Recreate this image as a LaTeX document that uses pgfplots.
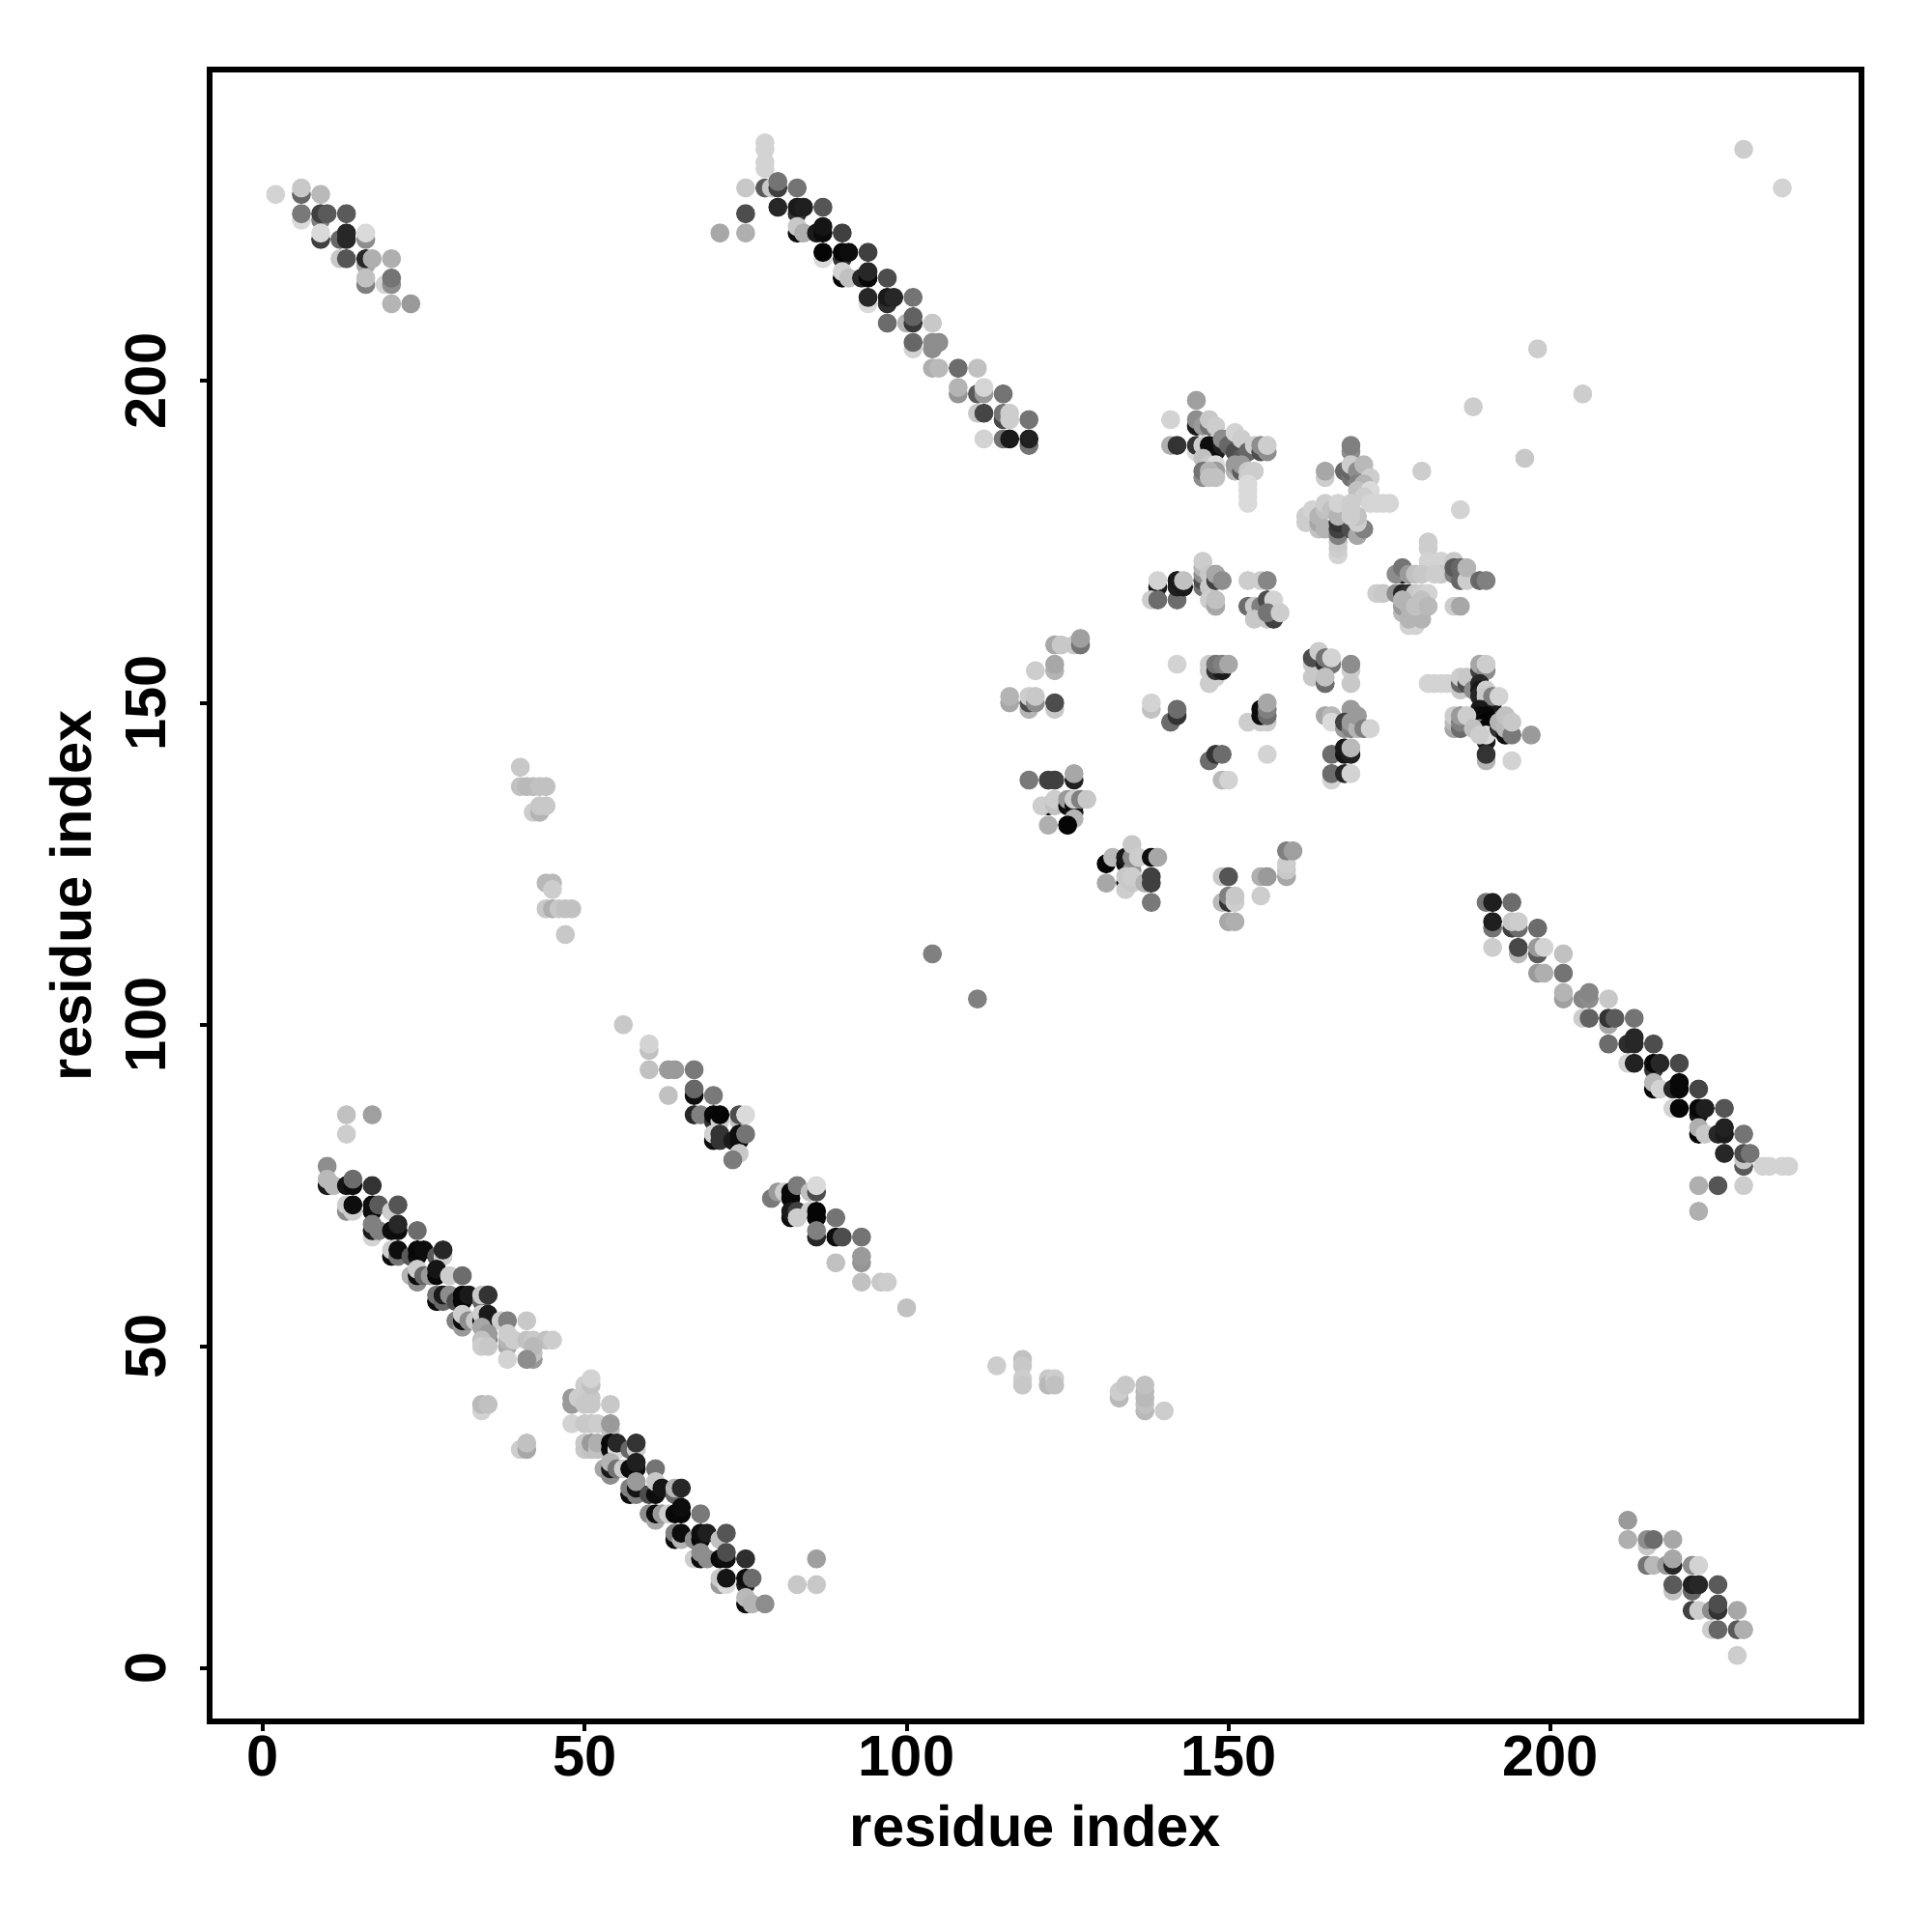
\documentclass[border=0pt]{standalone}
\usepackage{pgfplots}
\usepackage{fontspec}
\setmainfont{Liberation Sans}
\pgfplotsset{compat=1.18}
\begin{document}
\begin{tikzpicture}[x=1pt,y=1pt]
\useasboundingbox (0,0) rectangle (500,500);
\begin{axis}[
  at={(54.25pt,54.5pt)}, anchor=south west,
  scale only axis, width=427.5pt, height=427.5pt,
  xmin=-8.25, xmax=248.3, ymin=-8.25, ymax=248.4,
  axis line style={line width=1.5pt},
  tick style={black, line width=1pt},
  tick align=outside, major tick length=2.6pt,
  xtick={0,50,100,150,200}, ytick={0,50,100,150,200},
  xtick pos=bottom, ytick pos=left,
  /pgf/number format/assume math mode=true,
  tick label style={font=\fontsize{14.9}{16}\selectfont\bfseries},
  xticklabel style={yshift=2.5pt},
  yticklabel style={rotate=90, anchor=south, yshift=5pt},
  label style={font=\fontsize{14.9}{16}\selectfont\bfseries},
  xlabel={residue index}, ylabel={residue index},
  xlabel style={at={(axis description cs:0.5,0)}, anchor=center, yshift=-27pt},
  ylabel style={at={(axis description cs:0,0.5)}, anchor=center, yshift=36pt},
  colormap={mygray}{gray(0cm)=(0); gray(1cm)=(1)},
  point meta min=0, point meta max=1,
  clip=true,
]
\addplot[scatter, only marks, mark=*, mark size=2.25pt, line width=0.4pt,
  scatter/use mapped color={fill=mapped color, draw=mapped color},
  point meta=explicit]
table[x=x, y=y, meta=g, row sep=\\] {
x y g\\
2 229 .82\\ 6 229 .4\\ 6 230 .78\\ 9 229 .72\\ 6 225 .85\\ 6 226 .47\\ 9 225 .5\\ 9 226 .25\\ 10 226 .35\\ 13 226 .35\\
9 222 .25\\ 9 223 .85\\ 12 222 .4\\ 13 223 .15\\ 13 222 .15\\ 16 222 .55\\ 16 223 .85\\ 12 219 .78\\ 13 219 .33\\ 16 218 .65\\ 16 219 .15\\ 17 219 .68\\ 20 219 .68\\
16 215 .5\\ 16 216 .75\\ 19 215 .82\\ 20 215 .55\\ 20 216 .45\\ 20 212 .7\\ 23 212 .6\\
78 237 .82\\ 78 236 .82\\ 78 234 .82\\ 78 233 .82\\ 75 230 .78\\ 78 230 .35\\ 79 230 .78\\ 80 230 .25\\ 80 231 .45\\ 83 230 .45\\
75 226 .3\\ 71 223 .65\\ 75 223 .68\\ 80 227 .15\\ 83 226 .2\\ 83 227 .1\\ 84 227 .12\\ 87 227 .33\\
83 223 .05\\ 83 224 .78\\ 84 223 .68\\ 86 223 .1\\ 87 223 .04\\ 87 224 .08\\ 90 223 .25\\
87 219 .85\\ 87 220 .02\\ 90 219 .2\\ 90 220 .02\\ 91 220 .05\\ 94 220 .25\\
90 216 .02\\ 90 217 .82\\ 91 216 .75\\ 93 216 .15\\ 94 216 .03\\ 94 217 .15\\ 97 216 .3\\
94 212 .85\\ 94 213 .15\\ 97 212 .18\\ 97 213 .1\\ 98 213 .15\\ 101 213 .45\\
97 209 .42\\ 100 209 .7\\ 101 209 .22\\ 101 210 .38\\ 104 209 .78\\ 101 205 .82\\ 101 206 .4\\ 104 205 .55\\ 104 206 .55\\ 105 206 .55\\
104 202 .68\\ 105 202 .72\\ 108 202 .42\\ 111 202 .75\\ 108 198 .58\\ 108 199 .7\\ 111 198 .35\\ 112 198 .6\\ 112 199 .83\\ 115 198 .45\\
111 195 .78\\ 112 195 .27\\ 115 194 .28\\ 115 195 .45\\ 116 194 .8\\ 116 195 .8\\ 119 194 .45\\
112 191 .82\\ 115 191 .45\\ 116 191 .1\\ 119 190 .45\\ 119 191 .13\\
145 197 .62\\ 141 194 .82\\ 145 193 .1\\ 145 194 .55\\ 146 193 .6\\ 147 193 .45\\ 147 194 .78\\ 148 193 .8\\
141 190 .68\\ 142 190 .2\\ 145 189 .85\\ 145 190 .2\\ 146 190 .8\\ 148 189 .1\\ 147 190 .05\\ 148 190 .05\\ 149 190 .12\\ 150 191 .1\\ 149 191 .55\\
150 190 .4\\ 151 189 .3\\ 151 192 .82\\ 152 188 .35\\ 152 191 .8\\ 153 189 .4\\ 154 190 .8\\ 155 189 .3\\ 155 190 .55\\ 156 189 .55\\ 156 190 .8\\
146 188 .75\\ 147 187 .78\\ 148 187 .85\\ 146 185 .55\\ 146 186 .45\\ 148 186 .6\\ 147 186 .7\\ 147 185 .75\\ 148 185 .75\\
151 186 .7\\ 151 187 .6\\ 152 186 .35\\ 152 187 .6\\ 153 186 .78\\ 154 186 .8\\ 153 185 .8\\ 153 184 .85\\ 153 183 .85\\ 153 182 .85\\ 153 181 .85\\
169 189 .55\\ 169 190 .5\\ 165 185 .8\\ 165 186 .65\\ 168 186 .4\\ 169 185 .45\\ 169 186 .4\\ 169 187 .8\\ 170 186 .55\\ 171 187 .72\\ 172 185 .8\\ 170 184 .5\\ 171 184 .7\\ 170 183 .75\\ 172 183 .85\\ 171 182 .8\\
172 181 .83\\ 173 181 .83\\ 174 181 .83\\ 175 181 .83\\
162 178 .8\\ 162 179 .8\\ 163 180 .82\\ 164 177 .75\\ 164 178 .65\\ 164 179 .7\\ 165 177 .7\\ 165 180 .75\\ 165 181 .8\\ 166 180 .75\\ 167 173 .82\\ 167 174 .8\\ 167 175 .78\\ 167 176 .5\\ 167 177 .25\\ 167 178 .2\\ 167 179 .7\\ 167 181 .82\\
169 177 .3\\ 170 176 .65\\ 171 177 .5\\ 170 178 .8\\ 170 179 .75\\ 169 179 .8\\ 169 180 .8\\ 169 181 .8\\
139 168 .1\\ 139 169 .82\\ 138 166 .8\\ 139 166 .42\\ 142 166 .42\\ 142 168 .12\\ 142 169 .1\\ 143 168 .1\\ 143 169 .75\\
146 168 .45\\ 146 169 .3\\ 146 170 .55\\ 146 171 .7\\ 146 172 .8\\ 147 168 .78\\ 147 170 .78\\ 148 169 .25\\ 148 170 .65\\ 149 169 .55\\ 147 166 .8\\ 148 165 .65\\ 148 166 .75\\
153 169 .8\\ 155 169 .8\\ 156 169 .52\\ 153 165 .42\\ 154 165 .78\\ 155 165 .5\\ 156 166 .3\\ 157 166 .82\\ 154 163 .78\\ 156 163 .78\\ 157 163 .25\\ 156 164 .45\\ 158 164 .8\\
181 174 .8\\ 181 175 .8\\ 181 171 .8\\ 181 172 .82\\ 183 172 .82\\ 185 172 .78\\ 183 170 .78\\ 177 170 .1\\ 176 170 .55\\ 177 171 .45\\ 178 170 .6\\ 179 170 .75\\ 180 170 .78\\ 182 170 .8\\
185 170 .5\\ 185 171 .35\\ 186 169 .4\\ 186 171 .4\\ 187 169 .8\\ 187 171 .7\\ 189 169 .4\\ 190 169 .5\\
173 167 .8\\ 174 167 .78\\ 176 167 .55\\ 177 167 .15\\ 178 167 .2\\ 179 167 .78\\ 180 167 .8\\ 181 167 .82\\
177 164 .72\\ 177 165 .6\\ 177 166 .7\\ 178 162 .82\\ 179 162 .82\\ 178 163 .7\\ 180 163 .7\\ 178 165 .7\\ 179 164 .7\\ 179 165 .75\\ 180 166 .75\\ 181 165 .72\\ 185 165 .8\\ 186 165 .65\\
188 196 .8\\ 196 188 .78\\ 180 186 .8\\ 186 180 .82\\ 198 205 .8\\ 205 198 .8\\ 230 236 .8\\ 236 230 .82\\
123 159 .65\\ 124 159 .78\\ 126 159 .78\\ 127 159 .45\\ 127 160 .62\\ 120 155 .8\\ 123 155 .7\\ 123 156 .65\\
116 150 .65\\ 116 151 .7\\ 119 149 .7\\ 119 150 .3\\ 119 151 .8\\ 120 150 .55\\ 120 151 .78\\ 123 149 .78\\ 123 150 .3\\
138 149 .75\\ 138 150 .82\\ 141 147 .42\\ 142 148 .2\\ 142 149 .42\\ 142 156 .82\\ 147 153 .8\\ 147 155 .8\\ 147 156 .8\\ 148 154 .8\\ 148 155 .2\\ 149 155 .1\\ 148 156 .45\\ 149 156 .5\\ 150 156 .65\\
153 147 .8\\ 155 147 .8\\ 156 147 .8\\ 155 148 .05\\ 155 149 .05\\ 156 148 .42\\ 156 149 .5\\ 156 150 .65\\
147 141 .42\\ 148 142 .2\\ 149 142 .42\\ 156 142 .82\\ 149 138 .72\\ 150 138 .82\\
119 138 .47\\ 122 138 .25\\ 123 138 .25\\ 126 138 .13\\ 126 139 .65\\ 122 134 .05\\ 121 134 .8\\ 123 134 .75\\ 123 135 .8\\ 125 134 .05\\ 125 135 .6\\ 126 133 .1\\ 126 134 .05\\ 126 132 .7\\ 126 135 .8\\ 127 135 .5\\ 128 135 .78\\ 122 131 .68\\ 125 131 .02\\
131 125 .02\\ 132 126 .72\\ 134 125 .05\\ 134 126 .1\\ 135 124 .6\\ 135 126 .55\\ 135 128 .78\\ 136 126 .8\\ 138 126 .05\\ 139 126 .65\\ 131 122 .65\\ 134 122 .05\\ 134 121 .8\\ 134 123 .78\\ 135 122 .78\\ 135 123 .8\\ 137 122 .7\\ 138 122 .25\\ 138 123 .25\\ 138 119 .47\\
149 123 .78\\ 150 123 .33\\ 155 123 .68\\ 156 123 .6\\ 149 119 .72\\ 150 119 .2\\ 150 120 .5\\ 151 119 .8\\ 151 120 .78\\ 155 120 .8\\ 150 116 .65\\ 151 116 .68\\
159 123 .65\\ 159 124 .78\\ 159 125 .8\\ 159 127 .5\\ 160 127 .62\\
163 156 .78\\ 163 157 .3\\ 164 158 .8\\ 165 156 .2\\ 165 157 .45\\ 166 156 .45\\ 166 157 .82\\ 163 154 .78\\ 165 153 .42\\ 165 154 .75\\ 169 155 .8\\ 169 156 .55\\ 169 153 .78\\
165 148 .65\\ 166 148 .72\\ 169 149 .6\\ 166 147 .85\\ 168 146 .6\\ 168 147 .25\\ 169 146 .5\\ 169 147 .6\\ 170 146 .7\\ 170 148 .6\\ 171 146 .5\\ 172 146 .82\\
166 142 .42\\ 168 142 .08\\ 168 143 .1\\ 169 142 .13\\ 169 143 .72\\ 166 138 .82\\ 166 139 .42\\ 168 139 .15\\ 169 139 .82\\
181 153 .82\\ 182 153 .82\\ 183 153 .82\\ 184 153 .82\\ 186 152 .78\\ 186 153 .4\\ 186 154 .8\\ 187 153 .3\\ 187 154 .78\\ 188 152 .55\\
189 155 .25\\ 189 156 .65\\ 190 155 .55\\ 190 156 .8\\ 189 153 .15\\ 189 152 .1\\ 189 151 .15\\ 190 152 .8\\ 190 151 .78\\ 191 149 .55\\ 191 150 .1\\ 191 151 .5\\ 192 151 .82\\
189 149 .1\\ 189 148 .05\\ 190 148 .03\\ 189 147 .05\\ 190 147 .02\\ 189 146 .5\\ 190 144 .1\\ 190 146 .02\\ 190 145 .85\\
185 146 .65\\ 185 147 .72\\ 185 148 .8\\ 186 146 .42\\ 186 147 .5\\ 186 148 .6\\ 187 148 .8\\ 188 146 .75\\ 189 145 .8\\
192 146 .2\\ 192 147 .7\\ 193 145 .05\\ 193 146 .72\\ 193 148 .75\\ 194 145 .47\\ 194 147 .78\\ 197 145 .6\\ 190 141 .7\\ 190 142 .2\\ 194 141 .82\\
190 119 .45\\ 191 119 .12\\ 194 119 .42\\ 191 115 .45\\ 191 116 .12\\ 194 115 .25\\ 195 115 .42\\ 194 116 .78\\ 195 116 .8\\ 198 115 .42\\
191 112 .8\\ 195 111 .72\\ 195 112 .28\\ 198 111 .35\\ 198 112 .6\\ 199 112 .82\\ 202 111 .75\\ 198 108 .6\\ 199 108 .68\\ 202 108 .45\\
202 104 .62\\ 202 105 .7\\ 205 104 .52\\ 206 104 .55\\ 206 105 .52\\ 209 104 .78\\ 205 101 .8\\ 206 101 .38\\ 209 100 .65\\ 209 101 .2\\ 210 101 .35\\ 213 101 .45\\
209 97 .42\\ 212 97 .18\\ 213 97 .15\\ 213 98 .15\\ 216 97 .3\\ 212 94 .82\\ 213 94 .13\\ 216 93 .2\\ 216 94 .03\\ 217 94 .15\\ 220 94 .28\\
216 90 .02\\ 216 91 .72\\ 217 90 .82\\ 219 90 .15\\ 220 90 .03\\ 220 91 .03\\ 223 90 .27\\
219 87 .82\\ 220 87 .02\\ 223 86 .08\\ 223 87 .03\\ 224 87 .12\\ 227 87 .33\\ 223 83 .02\\ 223 84 .68\\ 224 83 .78\\ 226 83 .15\\ 227 83 .1\\ 227 84 .13\\ 230 83 .45\\
227 80 .15\\ 230 78 .35\\ 230 79 .78\\ 230 80 .3\\ 231 80 .45\\ 233 78 .82\\ 234 78 .82\\ 236 78 .82\\ 237 78 .82\\ 223 75 .68\\ 226 75 .33\\ 230 75 .8\\ 223 71 .68\\
13 86 .75\\ 17 86 .62\\ 13 83 .8\\ 10 78 .55\\ 10 75 .1\\ 10 76 .72\\ 11 75 .72\\ 13 75 .08\\ 14 75 .05\\ 14 76 .42\\ 17 75 .2\\
13 71 .55\\ 13 72 .8\\ 14 71 .8\\ 14 72 .05\\ 17 71 .05\\ 17 72 .05\\ 18 72 .35\\ 20 71 .8\\ 21 72 .33\\
17 67 .82\\ 17 68 .1\\ 17 69 .5\\ 18 68 .5\\ 20 68 .05\\ 21 68 .05\\ 21 69 .15\\ 24 68 .42\\
20 64 .05\\ 20 65 .8\\ 21 64 .45\\ 21 65 .05\\ 23 64 .35\\ 24 64 .05\\ 24 65 .03\\ 25 65 .05\\ 27 64 .35\\ 28 64 .8\\ 28 65 .15\\
23 61 .7\\ 24 60 .55\\ 24 61 .05\\ 24 62 .8\\ 25 61 .4\\ 26 61 .6\\ 27 61 .03\\ 27 62 .08\\ 29 61 .8\\ 31 61 .42\\
27 57 .05\\ 27 58 .45\\ 28 57 .4\\ 28 58 .1\\ 29 58 .55\\ 30 57 .3\\ 31 57 .03\\ 31 58 .03\\ 32 58 .1\\ 34 57 .4\\ 34 58 .78\\ 35 58 .2\\
30 54 .5\\ 31 53 .6\\ 31 54 .05\\ 31 55 .8\\ 32 54 .55\\ 33 54 .78\\ 34 54 .05\\ 34 55 .8\\ 35 54 .05\\ 35 55 .1\\ 37 54 .8\\ 38 54 .5\\ 41 54 .78\\
34 53 .65\\ 35 51 .5\\ 35 52 .6\\ 34 51 .75\\ 34 50 .8\\ 35 50 .78\\ 38 50 .65\\ 38 51 .7\\ 38 52 .8\\ 39 51 .8\\ 41 51 .75\\ 42 51 .78\\ 44 51 .75\\ 45 51 .8\\ 42 48 .6\\ 42 49 .75\\ 42 50 .72\\ 38 48 .82\\ 41 48 .55\\
34 40 .82\\ 34 41 .72\\ 35 41 .75\\ 40 34 .8\\ 41 34 .65\\ 41 35 .75\\
48 41 .6\\ 48 42 .6\\ 49 42 .8\\ 50 41 .78\\ 50 44 .8\\ 51 41 .78\\ 51 42 .78\\ 51 44 .75\\ 51 45 .82\\ 54 41 .78\\
48 38 .82\\ 50 38 .78\\ 51 38 .78\\ 52 38 .8\\ 54 37 .75\\ 54 38 .6\\
50 34 .78\\ 50 35 .78\\ 51 34 .75\\ 51 35 .6\\ 52 34 .75\\ 52 35 .68\\ 54 34 .05\\ 54 35 .03\\ 55 34 .85\\ 55 35 .15\\ 57 34 .4\\ 58 34 .8\\ 58 35 .2\\
53 31 .65\\ 54 30 .55\\ 54 31 .1\\ 54 32 .7\\ 55 31 .45\\ 56 31 .8\\ 57 31 .05\\ 58 31 .05\\ 58 32 .12\\ 61 31 .45\\
57 27 .05\\ 57 28 .5\\ 58 27 .5\\ 58 28 .08\\ 58 29 .6\\ 60 27 .3\\ 61 27 .05\\ 61 29 .78\\ 62 28 .08\\ 64 27 .4\\ 64 28 .7\\ 65 28 .15\\
60 24 .55\\ 61 23 .65\\ 61 24 .05\\ 62 24 .6\\ 63 24 .8\\ 64 24 .03\\ 65 24 .03\\ 65 25 .05\\ 68 24 .47\\
64 20 .05\\ 64 21 .5\\ 65 20 .7\\ 65 21 .05\\ 67 20 .55\\ 68 20 .03\\ 68 21 .05\\ 69 21 .12\\ 71 20 .75\\ 72 21 .33\\
67 17 .8\\ 68 17 .05\\ 68 18 .55\\ 69 17 .55\\ 71 17 .03\\ 72 17 .05\\ 72 18 .3\\ 75 17 .18\\
71 13 .6\\ 71 14 .78\\ 72 13 .85\\ 72 14 .08\\ 75 13 .1\\ 75 14 .05\\ 76 14 .42\\ 75 10 .05\\ 75 11 .72\\ 76 10 .7\\ 78 10 .55\\ 83 13 .78\\ 86 13 .78\\ 86 17 .62\\
56 100 .78\\ 60 96 .75\\ 60 97 .82\\ 60 93 .75\\ 63 93 .6\\ 64 93 .6\\ 67 93 .47\\ 63 89 .75\\ 67 89 .05\\ 67 90 .4\\ 70 89 .47\\
67 86 .15\\ 68 86 .5\\ 70 85 .2\\ 70 86 .03\\ 71 85 .8\\ 71 86 .02\\ 74 85 .75\\ 74 86 .3\\ 75 86 .85\\
70 82 .05\\ 70 83 .82\\ 71 82 .2\\ 71 83 .2\\ 73 82 .1\\ 74 82 .05\\ 74 83 .05\\ 75 83 .45\\ 74 80 .78\\ 73 79 .48\\
79 73 .47\\ 80 74 .6\\ 81 74 .8\\ 82 73 .03\\ 82 74 .03\\ 83 75 .48\\ 85 74 .75\\ 86 74 .3\\ 86 75 .85\\
82 70 .05\\ 82 71 .1\\ 83 71 .25\\ 83 70 .8\\ 85 71 .8\\ 86 70 .02\\ 86 71 .02\\ 86 67 .15\\ 86 68 .5\\ 89 70 .45\\ 89 67 .05\\ 90 67 .3\\ 93 67 .45\\ 93 63 .58\\ 93 64 .6\\ 89 63 .75\\ 93 60 .75\\ 96 60 .78\\ 97 60 .8\\ 100 56 .75\\
212 23 .6\\ 212 20 .68\\ 215 19 .78\\ 215 20 .55\\ 216 20 .42\\ 219 20 .65\\ 215 16 .45\\ 216 16 .72\\ 218 16 .6\\ 219 16 .15\\ 219 17 .65\\ 222 16 .55\\ 223 16 .82\\
219 12 .75\\ 219 13 .35\\ 222 12 .4\\ 222 13 .12\\ 223 13 .15\\ 226 13 .35\\ 222 9 .25\\ 223 9 .8\\ 225 9 .55\\ 226 9 .2\\ 226 10 .3\\ 229 9 .65\\
225 6 .8\\ 226 6 .4\\ 229 6 .35\\ 230 6 .68\\ 229 2 .8\\
104 111 .5\\ 111 104 .5\\
40 140 .78\\ 40 137 .75\\ 41 137 .72\\ 42 137 .72\\ 43 137 .75\\ 44 137 .75\\ 42 133 .8\\ 43 133 .7\\ 43 134 .78\\ 44 134 .78\\
44 122 .72\\ 45 122 .72\\ 45 121 .8\\ 44 118 .78\\ 45 118 .68\\ 46 118 .78\\ 47 118 .75\\ 48 118 .75\\ 47 114 .78\\
114 47 .8\\ 118 48 .75\\ 118 47 .78\\ 118 45 .8\\ 118 44 .78\\ 122 45 .78\\ 122 44 .72\\ 123 45 .8\\ 123 44 .75\\
133 42 .72\\ 133 43 .8\\ 134 44 .78\\ 137 40 .72\\ 137 41 .75\\ 137 42 .72\\ 137 43 .72\\ 137 44 .75\\ 140 40 .8\\
};
\end{axis}
\end{tikzpicture}
\end{document}
